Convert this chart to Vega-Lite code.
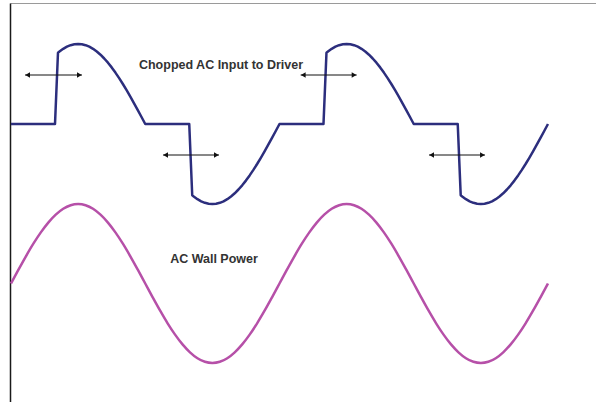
{
  "$schema": "https://vega.github.io/schema/vega-lite/v6.json",
  "autosize": {"type": "none"},
  "width": 586,
  "height": 399,
  "padding": {"left": 10, "top": 3, "right": 0, "bottom": 0},
  "background": "white",
  "config": {
    "view": {"stroke": null},
    "axis": {"labels": false, "ticks": false, "grid": false, "title": null},
    "axisX": {"domainColor": "#9a9a9a", "domainWidth": 1},
    "axisY": {"domainColor": "#1a1a1a", "domainWidth": 1.5}
  },
  "datasets": {
    "chopped": [
      {"angle": 0, "value": 159.5}, {"angle": 59, "value": 159.5}, {"angle": 63, "value": 230.8}, {"angle": 65, "value": 232.0},
      {"angle": 70, "value": 234.7}, {"angle": 75, "value": 236.8}, {"angle": 80, "value": 238.3}, {"angle": 85, "value": 239.2},
      {"angle": 90, "value": 239.5}, {"angle": 95, "value": 239.2}, {"angle": 100, "value": 238.3}, {"angle": 105, "value": 236.8},
      {"angle": 110, "value": 234.7}, {"angle": 115, "value": 232.0}, {"angle": 120, "value": 228.8}, {"angle": 125, "value": 225.0},
      {"angle": 130, "value": 220.8}, {"angle": 135, "value": 216.1}, {"angle": 140, "value": 210.9}, {"angle": 145, "value": 205.4},
      {"angle": 150, "value": 199.5}, {"angle": 155, "value": 193.3}, {"angle": 160, "value": 186.9}, {"angle": 165, "value": 180.2},
      {"angle": 170, "value": 173.4}, {"angle": 175, "value": 166.5}, {"angle": 180, "value": 159.5},
      {"angle": 239, "value": 159.5}, {"angle": 243, "value": 88.2}, {"angle": 245, "value": 87.0}, {"angle": 250, "value": 84.3},
      {"angle": 255, "value": 82.2}, {"angle": 260, "value": 80.7}, {"angle": 265, "value": 79.8}, {"angle": 270, "value": 79.5},
      {"angle": 275, "value": 79.8}, {"angle": 280, "value": 80.7}, {"angle": 285, "value": 82.2}, {"angle": 290, "value": 84.3},
      {"angle": 295, "value": 87.0}, {"angle": 300, "value": 90.2}, {"angle": 305, "value": 94.0}, {"angle": 310, "value": 98.2},
      {"angle": 315, "value": 102.9}, {"angle": 320, "value": 108.1}, {"angle": 325, "value": 113.6}, {"angle": 330, "value": 119.5},
      {"angle": 335, "value": 125.7}, {"angle": 340, "value": 132.1}, {"angle": 345, "value": 138.8}, {"angle": 350, "value": 145.6},
      {"angle": 355, "value": 152.5}, {"angle": 360, "value": 159.5},
      {"angle": 419, "value": 159.5}, {"angle": 423, "value": 230.8}, {"angle": 425, "value": 232.0},
      {"angle": 430, "value": 234.7}, {"angle": 435, "value": 236.8}, {"angle": 440, "value": 238.3}, {"angle": 445, "value": 239.2},
      {"angle": 450, "value": 239.5}, {"angle": 455, "value": 239.2}, {"angle": 460, "value": 238.3}, {"angle": 465, "value": 236.8},
      {"angle": 470, "value": 234.7}, {"angle": 475, "value": 232.0}, {"angle": 480, "value": 228.8}, {"angle": 485, "value": 225.0},
      {"angle": 490, "value": 220.8}, {"angle": 495, "value": 216.1}, {"angle": 500, "value": 210.9}, {"angle": 505, "value": 205.4},
      {"angle": 510, "value": 199.5}, {"angle": 515, "value": 193.3}, {"angle": 520, "value": 186.9}, {"angle": 525, "value": 180.2},
      {"angle": 530, "value": 173.4}, {"angle": 535, "value": 166.5}, {"angle": 540, "value": 159.5},
      {"angle": 599, "value": 159.5}, {"angle": 603, "value": 88.2}, {"angle": 605, "value": 87.0}, {"angle": 610, "value": 84.3},
      {"angle": 615, "value": 82.2}, {"angle": 620, "value": 80.7}, {"angle": 625, "value": 79.8}, {"angle": 630, "value": 79.5},
      {"angle": 635, "value": 79.8}, {"angle": 640, "value": 80.7}, {"angle": 645, "value": 82.2}, {"angle": 650, "value": 84.3},
      {"angle": 655, "value": 87.0}, {"angle": 660, "value": 90.2}, {"angle": 665, "value": 94.0}, {"angle": 670, "value": 98.2},
      {"angle": 675, "value": 102.9}, {"angle": 680, "value": 108.1}, {"angle": 685, "value": 113.6}, {"angle": 690, "value": 119.5},
      {"angle": 695, "value": 125.7}, {"angle": 700, "value": 132.1}, {"angle": 705, "value": 138.8}, {"angle": 710, "value": 145.6},
      {"angle": 715, "value": 152.5}, {"angle": 720, "value": 159.5}
    ],
    "wall": [
      {"angle": 0, "value": 0}, {"angle": 10, "value": 13.8}, {"angle": 20, "value": 27.2}, {"angle": 30, "value": 39.8},
      {"angle": 40, "value": 51.1}, {"angle": 50, "value": 60.9}, {"angle": 60, "value": 68.8}, {"angle": 70, "value": 74.7},
      {"angle": 80, "value": 78.3}, {"angle": 90, "value": 79.5}, {"angle": 100, "value": 78.3}, {"angle": 110, "value": 74.7},
      {"angle": 120, "value": 68.8}, {"angle": 130, "value": 60.9}, {"angle": 140, "value": 51.1}, {"angle": 150, "value": 39.8},
      {"angle": 160, "value": 27.2}, {"angle": 170, "value": 13.8}, {"angle": 180, "value": 0},
      {"angle": 190, "value": -13.8}, {"angle": 200, "value": -27.2}, {"angle": 210, "value": -39.8}, {"angle": 220, "value": -51.1},
      {"angle": 230, "value": -60.9}, {"angle": 240, "value": -68.8}, {"angle": 250, "value": -74.7}, {"angle": 260, "value": -78.3},
      {"angle": 270, "value": -79.5}, {"angle": 280, "value": -78.3}, {"angle": 290, "value": -74.7}, {"angle": 300, "value": -68.8},
      {"angle": 310, "value": -60.9}, {"angle": 320, "value": -51.1}, {"angle": 330, "value": -39.8}, {"angle": 340, "value": -27.2},
      {"angle": 350, "value": -13.8}, {"angle": 360, "value": 0},
      {"angle": 370, "value": 13.8}, {"angle": 380, "value": 27.2}, {"angle": 390, "value": 39.8},
      {"angle": 400, "value": 51.1}, {"angle": 410, "value": 60.9}, {"angle": 420, "value": 68.8}, {"angle": 430, "value": 74.7},
      {"angle": 440, "value": 78.3}, {"angle": 450, "value": 79.5}, {"angle": 460, "value": 78.3}, {"angle": 470, "value": 74.7},
      {"angle": 480, "value": 68.8}, {"angle": 490, "value": 60.9}, {"angle": 500, "value": 51.1}, {"angle": 510, "value": 39.8},
      {"angle": 520, "value": 27.2}, {"angle": 530, "value": 13.8}, {"angle": 540, "value": 0},
      {"angle": 550, "value": -13.8}, {"angle": 560, "value": -27.2}, {"angle": 570, "value": -39.8}, {"angle": 580, "value": -51.1},
      {"angle": 590, "value": -60.9}, {"angle": 600, "value": -68.8}, {"angle": 610, "value": -74.7}, {"angle": 620, "value": -78.3},
      {"angle": 630, "value": -79.5}, {"angle": 640, "value": -78.3}, {"angle": 650, "value": -74.7}, {"angle": 660, "value": -68.8},
      {"angle": 670, "value": -60.9}, {"angle": 680, "value": -51.1}, {"angle": 690, "value": -39.8}, {"angle": 700, "value": -27.2},
      {"angle": 710, "value": -13.8}, {"angle": 720, "value": 0}
    ],
    "arrows": [
      {"start": 18.8, "end": 95.2, "value": 208.5},
      {"start": 203.8, "end": 278.9, "value": 128.5},
      {"start": 388.4, "end": 463.5, "value": 208.5},
      {"start": 560.5, "end": 635.6, "value": 128.5}
    ],
    "heads": [
      {"angle": 22.3, "value": 208.5, "dir": "left"}, {"angle": 91.7, "value": 208.5, "dir": "right"},
      {"angle": 207.3, "value": 128.5, "dir": "left"}, {"angle": 275.4, "value": 128.5, "dir": "right"},
      {"angle": 391.9, "value": 208.5, "dir": "left"}, {"angle": 460.0, "value": 208.5, "dir": "right"},
      {"angle": 564.0, "value": 128.5, "dir": "left"}, {"angle": 632.1, "value": 128.5, "dir": "right"}
    ],
    "labels": [
      {"angle": 281.6, "value": 214.5, "text": "Chopped AC Input to Driver"},
      {"angle": 272.2, "value": 21, "text": "AC Wall Power"}
    ]
  },
  "layer": [
    {
      "data": {"name": "chopped"},
      "mark": {"type": "line", "color": "#2c2e7d", "strokeWidth": 2.5, "interpolate": "linear", "strokeJoin": "round"},
      "encoding": {
        "x": {"field": "angle", "type": "quantitative", "scale": {"domain": [-1.34, 784.4], "nice": false, "zero": false}, "axis": {"orient": "top"}},
        "y": {"field": "value", "type": "quantitative", "scale": {"domain": [-118.5, 280.5], "nice": false, "zero": false}, "axis": {"orient": "left"}}
      }
    },
    {
      "data": {"name": "wall"},
      "mark": {"type": "line", "color": "#b650a8", "strokeWidth": 2.5, "interpolate": "monotone"},
      "encoding": {
        "x": {"field": "angle", "type": "quantitative", "axis": {"orient": "top"}},
        "y": {"field": "value", "type": "quantitative", "axis": {"orient": "left"}}
      }
    },
    {
      "data": {"name": "arrows"},
      "mark": {"type": "rule", "color": "#111111", "strokeWidth": 1},
      "encoding": {
        "x": {"field": "start", "type": "quantitative", "axis": {"orient": "top"}},
        "x2": {"field": "end"},
        "y": {"field": "value", "type": "quantitative", "axis": {"orient": "left"}}
      }
    },
    {
      "data": {"name": "heads"},
      "mark": {"type": "point", "filled": true, "color": "#111111", "opacity": 1, "size": 30, "strokeWidth": 0},
      "encoding": {
        "x": {"field": "angle", "type": "quantitative", "axis": {"orient": "top"}},
        "y": {"field": "value", "type": "quantitative", "axis": {"orient": "left"}},
        "shape": {"field": "dir", "type": "nominal", "scale": {"domain": ["left", "right"], "range": ["triangle-left", "triangle-right"]}, "legend": null}
      }
    },
    {
      "data": {"name": "labels"},
      "mark": {"type": "text", "font": "Liberation Sans", "fontWeight": "bold", "fontSize": 12.5, "color": "#333333", "align": "center", "baseline": "alphabetic"},
      "encoding": {
        "x": {"field": "angle", "type": "quantitative", "axis": {"orient": "top"}},
        "y": {"field": "value", "type": "quantitative", "axis": {"orient": "left"}},
        "text": {"field": "text", "type": "nominal"}
      }
    }
  ]
}
